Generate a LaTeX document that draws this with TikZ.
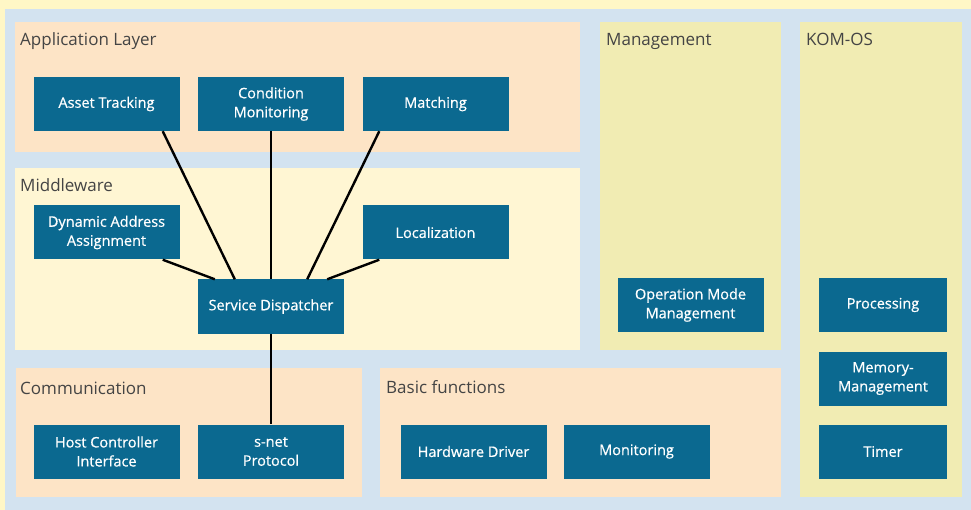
\documentclass[tikz,border=0pt]{standalone}
\usepackage{fontspec}
\setmainfont{Open Sans}
\newfontfamily\blockfont[FakeBold=0.6]{Open Sans}
\usetikzlibrary{positioning}

\definecolor{outeryellow}{HTML}{FFF7C6}
\definecolor{bgblue}{HTML}{D3E3F0}
\definecolor{peach}{HTML}{FDE4C6}
\definecolor{paleyellow}{HTML}{FFF6D3}
\definecolor{greenyellow}{HTML}{F1ECB3}
\definecolor{boxblue}{HTML}{0B6990}
\definecolor{labelgray}{HTML}{444444}

\begin{document}
\begin{tikzpicture}[x=1pt,y=-1pt,
  block/.style={fill=boxblue, text=white, minimum width=146pt, minimum height=54pt,
    inner sep=0pt, align=center, font=\blockfont\fontsize{14.5}{19}\selectfont},
  smallblock/.style={block, minimum width=128pt},
  layer/.style={anchor=base west, text=labelgray, inner sep=0pt, font=\fontsize{17}{19}\selectfont},
  link/.style={line width=2.4pt, black}]

  \useasboundingbox (0,0) rectangle (971,510);
  \fill[outeryellow] (0,0) rectangle (971,510);
  \fill[bgblue] (5,9) rectangle (971,510);

  % layers
  \fill[peach]       (15,22)  rectangle (580,152);
  \fill[paleyellow]  (15,168) rectangle (580,350);
  \fill[greenyellow] (600,22) rectangle (781,350);
  \fill[greenyellow] (800,22) rectangle (962,497);
  \fill[peach]       (16,368) rectangle (362,497);
  \fill[peach]       (380,368) rectangle (781,497);

  \node[layer] (applabel)  at (20,46)  {Application Layer};
  \node[layer] (midlabel)  at (20,192) {Middleware};
  \node[layer] (comlabel)  at (20,394) {Communication};
  \node[layer] (baslabel)  at (386,393) {Basic functions};
  \node[layer] (mgmlabel)  at (606,46) {Management};
  \node[layer] (komlabel)  at (806,46) {KOM-OS};

  % application layer
  \node[block] (asset) at (106.5,104) {Asset Tracking};
  \node[block] (cond)  at (271,104)   {Condition\\Monitoring};
  \node[block] (match) at (435.5,104) {Matching};

  % middleware
  \node[block] (dyn)  at (106.5,232.5) {Dynamic Address\\Assignment};
  \node[block] (loc)  at (435.5,232.5) {Localization};
  \node[block] (disp) at (271,306.5)   {Service Dispatcher};

  % communication and basic functions
  \node[block] (host) at (106.5,451.5) {Host Controller\\Interface};
  \node[block] (snet) at (271,451.5)   {s-net\\Protocol};
  \node[block] (hw)   at (473.5,451.5) {Hardware Driver};
  \node[block] (mon)  at (636.5,451.5) {Monitoring};

  % management and KOM-OS
  \node[block] (opmode) at (690.5,305) {Operation Mode\\Management};
  \node[smallblock] (proc)  at (883,305)   {Processing};
  \node[smallblock] (mem)   at (883,378.5) {Memory-\\Management};
  \node[smallblock] (timer) at (883,451.5) {Timer};

  % links to the dispatcher
  \draw[link] ([xshift=-17pt]asset.south east) -- ([xshift=37pt]disp.north west);
  \draw[link] ([xshift=17pt]match.south west) -- ([xshift=-37pt]disp.north east);
  \draw[link] ([xshift=-17pt]dyn.south east) -- ([xshift=17pt]disp.north west);
  \draw[link] ([xshift=17pt]loc.south west) -- ([xshift=-17pt]disp.north east);
  \foreach \from/\to in {cond.south/disp.north, disp.south/snet.north} {
    \draw[link] (\from) -- (\to);
  }

\end{tikzpicture}
\end{document}
